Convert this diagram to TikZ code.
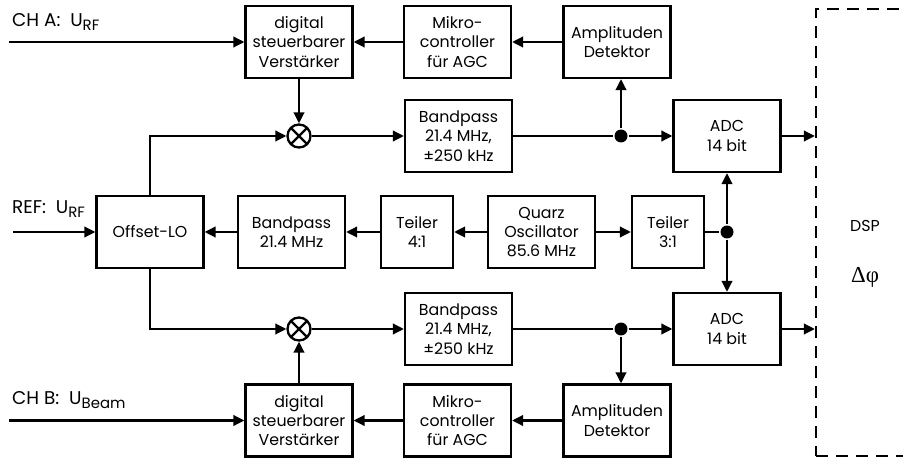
\documentclass[tikz,border=0pt]{standalone}
\usepackage{fontspec}
\setmainfont{Poppins}
\newfontfamily\greekfont{Liberation Serif}
\usetikzlibrary{arrows.meta}
\newcommand{\sub}[1]{\raisebox{-0.45ex}{\fontsize{8.5}{9}\selectfont #1}}

\begin{document}
\begin{tikzpicture}[x=0.02cm, y=-0.02cm, line width=1.3pt,
  font=\fontsize{9}{11}\selectfont,
  box/.style={draw, align=center, inner sep=0pt, minimum width=2.14cm, minimum height=1.44cm},
  smallbox/.style={box, minimum width=1.44cm},
  mixer/.style={draw, circle, inner sep=0pt, minimum size=0.46cm,
    path picture={\draw (path picture bounding box.north west) -- (path picture bounding box.south east)
      (path picture bounding box.south west) -- (path picture bounding box.north east);}},
  junc/.style={circle, fill, inner sep=0pt, minimum size=0.26cm},
  arr/.style={-{Triangle[length=0.22cm, width=0.21cm]}},
  inlabel/.style={anchor=west, inner sep=0pt, font=\fontsize{10.5}{12}\selectfont}]
  \useasboundingbox (0,0) rectangle (903,459);
  % Channel A
  \coordinate (inA) at (9,42);
  \node[inlabel] (labA) at (11,22) {CH A:\ \ U\sub{RF}};
  \node[box] (digA) at (299,42) {digital\\steuerbarer\\Verstärker};
  \node[box] (mikA) at (457.5,42) {Mikro-\\controller\\für AGC};
  \node[box] (ampA) at (617,42) {Amplituden\\Detektor};
  \node[mixer] (mixA) at (299,136) {};
  \node[box] (bpA) at (458.5,136) {Bandpass\\21.4 MHz,\\±250 kHz};
  \node[junc] (jA) at (621,136) {};
  \node[box] (adcA) at (727,136) {ADC\\14 bit};
  % Reference
  \coordinate (inR) at (13,232);
  \node[inlabel] (labR) at (11,209) {REF:\ \ U\sub{RF}};
  \node[box] (lo) at (150,232) {Offset-LO};
  \node[box] (bpR) at (291.5,232) {Bandpass\\21.4 MHz};
  \node[smallbox] (div4) at (417,232) {Teiler\\4:1};
  \node[box] (osc) at (541.5,232) {Quarz\\Oscillator\\85.6 MHz};
  \node[smallbox] (div3) at (668,232) {Teiler\\3:1};
  \node[junc] (jR) at (727,232) {};
  % Channel B
  \coordinate (inB) at (9,420.5);
  \node[inlabel] (labB) at (11,400) {CH B:\ \ U\sub{Beam}};
  \node[mixer] (mixB) at (299,329) {};
  \node[box] (bpB) at (458.5,329) {Bandpass\\21.4 MHz,\\±250 kHz};
  \node[junc] (jB) at (621,329) {};
  \node[box] (adcB) at (727,329) {ADC\\14 bit};
  \node[box] (digB) at (299,420.5) {digital\\steuerbarer\\Verstärker};
  \node[box] (mikB) at (457.5,420.5) {Mikro-\\controller\\für AGC};
  \node[box] (ampB) at (617,420.5) {Amplituden\\Detektor};
  % DSP
  \node[draw, dash pattern=on 0.24cm off 0.16cm, minimum width=2.16cm, minimum height=8.94cm] (dsp) at (870,232.5) {};
  \node (dspname) at (865,226) {DSP};
  \node (phase) at (865,277) {\fontsize{13}{14}\selectfont\greekfont Δφ};
  % Signal paths A
  \draw[arr] (inA) -- (digA.west);
  \draw[arr] (digA.south) -- (mixA.north);
  \draw[arr] (mixA.east) -- (bpA.west);
  \draw (bpA.east) -- (jA);
  \draw[arr] (jA) -- (adcA.west);
  \draw[arr] (jA) -- (jA |- ampA.south);
  \draw[arr] (ampA.west) -- (mikA.east);
  \draw[arr] (mikA.west) -- (digA.east);
  \draw[arr] (adcA.east) -- (adcA.east -| dsp.west);
  % LO chain
  \draw[arr] (inR) -- (lo.west);
  \draw[arr] (osc.west) -- (div4.east);
  \draw[arr] (div4.west) -- (bpR.east);
  \draw[arr] (bpR.west) -- (lo.east);
  \draw[arr] (osc.east) -- (div3.west);
  \draw (div3.east) -- (jR);
  \draw[arr] (jR) -- (adcA.south);
  \draw[arr] (jR) -- (adcB.north);
  \draw[arr] (lo.north) |- (mixA.west);
  \draw[arr] (lo.south) |- (mixB.west);
  % Signal paths B
  \draw[arr] (inB) -- (digB.west);
  \draw[arr] (digB.north) -- (mixB.south);
  \draw[arr] (mixB.east) -- (bpB.west);
  \draw (bpB.east) -- (jB);
  \draw[arr] (jB) -- (adcB.west);
  \draw[arr] (jB) -- (jB |- ampB.north);
  \draw[arr] (ampB.west) -- (mikB.east);
  \draw[arr] (mikB.west) -- (digB.east);
  \draw[arr] (adcB.east) -- (adcB.east -| dsp.west);
\end{tikzpicture}
\end{document}
